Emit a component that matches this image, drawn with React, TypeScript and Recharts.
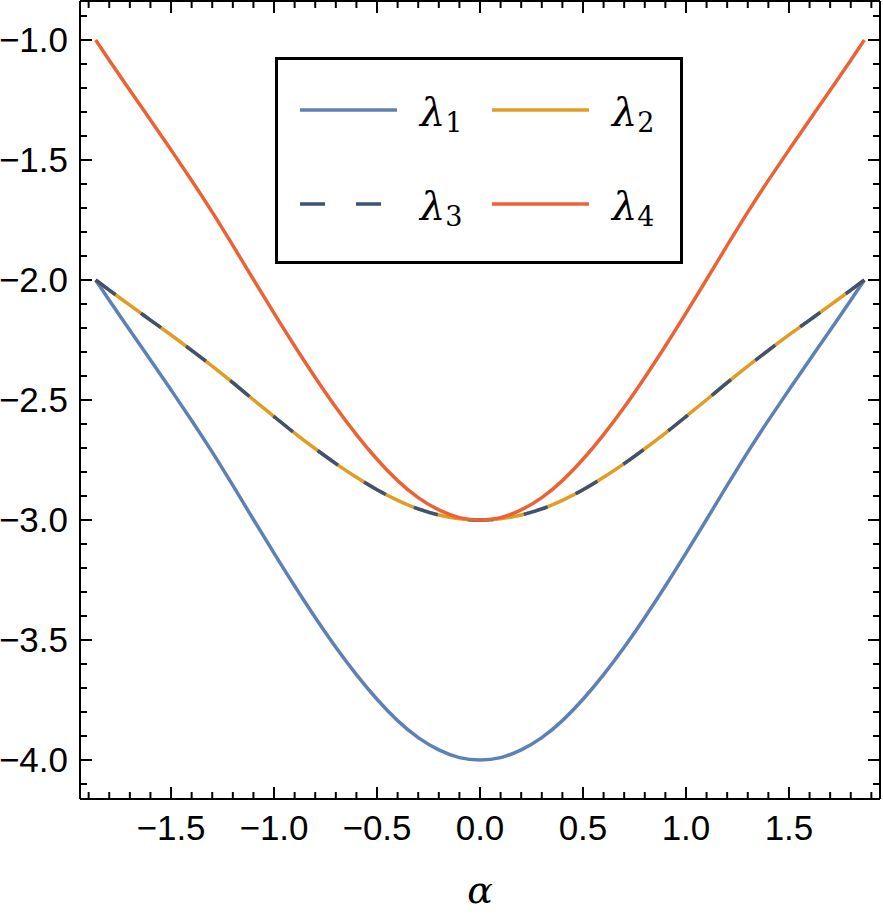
import React from 'react';
import { LineChart, Line, XAxis, YAxis, Legend } from 'recharts';

// alpha sample points and the four eigenvalue curves
const alpha = [
  -1.866, -1.8, -1.7, -1.6, -1.5, -1.4, -1.3, -1.2, -1.1, -1.0, -0.9, -0.8, -0.7, -0.6, -0.5, -0.4, -0.3, -0.2, -0.1,
  0,
  0.1, 0.2, 0.3, 0.4, 0.5, 0.6, 0.7, 0.8, 0.9, 1.0, 1.1, 1.2, 1.3, 1.4, 1.5, 1.6, 1.7, 1.8, 1.866,
];
const lambda1 = [
  -2.0, -2.084, -2.209, -2.333, -2.458, -2.585, -2.717, -2.856, -2.998, -3.138, -3.275, -3.406, -3.53, -3.644, -3.747, -3.836, -3.907, -3.958, -3.99,
  -4.0,
  -3.99, -3.958, -3.907, -3.836, -3.747, -3.644, -3.53, -3.406, -3.275, -3.138, -2.998, -2.856, -2.717, -2.585, -2.458, -2.333, -2.209, -2.084, -2.0,
];
const lambda2 = [
  -2.0, -2.042, -2.105, -2.167, -2.229, -2.293, -2.359, -2.428, -2.499, -2.569, -2.638, -2.703, -2.765, -2.822, -2.874, -2.918, -2.954, -2.979, -2.995,
  -3.0,
  -2.995, -2.979, -2.954, -2.918, -2.874, -2.822, -2.765, -2.703, -2.638, -2.569, -2.499, -2.428, -2.359, -2.293, -2.229, -2.167, -2.105, -2.042, -2.0,
];
const lambda3 = [
  -2.0, -2.042, -2.105, -2.167, -2.229, -2.293, -2.359, -2.428, -2.499, -2.569, -2.638, -2.703, -2.765, -2.822, -2.874, -2.918, -2.954, -2.979, -2.995,
  -3.0,
  -2.995, -2.979, -2.954, -2.918, -2.874, -2.822, -2.765, -2.703, -2.638, -2.569, -2.499, -2.428, -2.359, -2.293, -2.229, -2.167, -2.105, -2.042, -2.0,
];
const lambda4 = [
  -1.0, -1.084, -1.209, -1.333, -1.458, -1.585, -1.717, -1.856, -1.998, -2.138, -2.275, -2.406, -2.53, -2.644, -2.747, -2.836, -2.907, -2.958, -2.99,
  -3.0,
  -2.99, -2.958, -2.907, -2.836, -2.747, -2.644, -2.53, -2.406, -2.275, -2.138, -1.998, -1.856, -1.717, -1.585, -1.458, -1.333, -1.209, -1.084, -1.0,
];

const xTicks = [
  -1.9, -1.8, -1.7, -1.6, -1.5, -1.4, -1.3, -1.2, -1.1, -1.0, -0.9, -0.8, -0.7, -0.6, -0.5, -0.4, -0.3, -0.2, -0.1, 0,
  0.1, 0.2, 0.3, 0.4, 0.5, 0.6, 0.7, 0.8, 0.9, 1.0, 1.1, 1.2, 1.3, 1.4, 1.5, 1.6, 1.7, 1.8, 1.9,
];
const xMajor = [-1.5, -1.0, -0.5, 0, 0.5, 1.0, 1.5];
const xLabels = ['\u22121.5', '\u22121.0', '\u22120.5', '0.0', '0.5', '1.0', '1.5'];

const yTicks = [
  -4.1, -4.0, -3.9, -3.8, -3.7, -3.6, -3.5, -3.4, -3.3, -3.2, -3.1, -3.0, -2.9, -2.8, -2.7, -2.6, -2.5,
  -2.4, -2.3, -2.2, -2.1, -2.0, -1.9, -1.8, -1.7, -1.6, -1.5, -1.4, -1.3, -1.2, -1.1, -1.0, -0.9,
];
const yMajor = [-4.0, -3.5, -3.0, -2.5, -2.0, -1.5, -1.0];
const yLabels = ['\u22124.0', '\u22123.5', '\u22123.0', '\u22122.5', '\u22122.0', '\u22121.5', '\u22121.0'];

const seriesNames = ['\u03bb1', '\u03bb2', '\u03bb3', '\u03bb4'];
const seriesKeys = ['l1', 'l2', 'l3', 'l4'];
const seriesColors = ['#5E81B5', '#E19C24', '#3E5272', '#EB6235'];

const data = alpha.map((a, i) => ({
  alpha: a,
  l1: lambda1[i],
  l2: lambda2[i],
  l3: lambda3[i],
  l4: lambda4[i],
}));

const X_DOMAIN = [-1.942, 1.942];
const Y_DOMAIN = [-4.1625, -0.8375];
const DASH = '25 31';
const LINE_W = 3.5;
const TICK_FONT = '"Liberation Sans", Arial, sans-serif';
const MATH_FONT = '"DejaVu Serif", "Liberation Serif", serif';

const findMajor = (list: number[], v: number) => list.findIndex((m) => Math.abs(m - v) < 1e-6);

const BottomTick = (props: any) => {
  const { x, y, payload } = props;
  const i = findMajor(xMajor, payload.value);
  const len = i >= 0 ? 12 : 7;
  return (
    <g>
      <line x1={x} x2={x} y1={y} y2={y - len} stroke="#000" strokeWidth={2} />
      {i >= 0 && (
        <text x={x} y={y + 41} textAnchor="middle" fontFamily={TICK_FONT} fontSize={35} fill="#000">
          {xLabels[i]}
        </text>
      )}
    </g>
  );
};

const TopTick = (props: any) => {
  const { x, y, payload } = props;
  const len = findMajor(xMajor, payload.value) >= 0 ? 12 : 7;
  return <line x1={x} x2={x} y1={y} y2={y + len} stroke="#000" strokeWidth={2} />;
};

const LeftTick = (props: any) => {
  const { x, y, payload } = props;
  const i = findMajor(yMajor, payload.value);
  const len = i >= 0 ? 12 : 7;
  return (
    <g>
      <line x1={x} x2={x + len} y1={y} y2={y} stroke="#000" strokeWidth={2} />
      {i >= 0 && (
        <text x={x - 12} y={y + 12} textAnchor="end" fontFamily={TICK_FONT} fontSize={35} fill="#000">
          {yLabels[i]}
        </text>
      )}
    </g>
  );
};

const RightTick = (props: any) => {
  const { x, y, payload } = props;
  const len = findMajor(yMajor, payload.value) >= 0 ? 12 : 7;
  return <line x1={x} x2={x - len} y1={y} y2={y} stroke="#000" strokeWidth={2} />;
};

// legend box: two columns, two rows
const LegendBox = () => {
  const cols = [25, 217];
  const rows = [53, 147];
  return (
    <svg width={408} height={207} style={{ display: 'block' }}>
      <rect x={1.5} y={1.5} width={405} height={204} fill="#fff" stroke="#000" strokeWidth={3} />
      {seriesNames.map((name, i) => {
        const cx = cols[i % 2];
        const cy = rows[Math.floor(i / 2)];
        return (
          <g key={name}>
            <line
              x1={cx}
              x2={cx + 97}
              y1={cy}
              y2={cy}
              stroke={seriesColors[i]}
              strokeWidth={LINE_W}
              strokeDasharray={i === 2 ? DASH : undefined}
            />
            <text x={cx + 120} y={cy + 16} fontFamily={MATH_FONT} fontStyle="italic" fontSize={40} fill="#000">
              {name.charAt(0)}
              <tspan fontStyle="normal" fontSize={27} dy={6}>
                {name.slice(1)}
              </tspan>
            </text>
          </g>
        );
      })}
    </svg>
  );
};

export default function App() {
  return (
    <div style={{ position: 'absolute', left: 0, top: 0, width: 883, height: 923, background: '#fff' }}>
      <LineChart width={883} height={923} data={data} margin={{ top: 0, right: 0, bottom: 0, left: 0 }}>
        <XAxis
          dataKey="alpha"
          type="number"
          domain={X_DOMAIN}
          allowDataOverflow
          ticks={xTicks}
          interval={0}
          height={124}
          tickSize={0}
          tickMargin={0}
          tick={<BottomTick />}
          tickLine={false}
          axisLine={{ stroke: '#000', strokeWidth: 2 }}
          label={{
            value: '\u03b1',
            position: 'insideBottom',
            offset: 20,
            style: { fontFamily: MATH_FONT, fontStyle: 'italic', fontSize: 38, fill: '#000' },
          }}
        />
        <XAxis
          xAxisId="top"
          orientation="top"
          dataKey="alpha"
          type="number"
          domain={X_DOMAIN}
          allowDataOverflow
          ticks={xTicks}
          interval={0}
          height={1}
          tickSize={0}
          tickMargin={0}
          tick={<TopTick />}
          tickLine={false}
          axisLine={{ stroke: '#000', strokeWidth: 2 }}
        />
        <YAxis
          type="number"
          domain={Y_DOMAIN}
          allowDataOverflow
          ticks={yTicks}
          interval={0}
          width={80}
          tickSize={0}
          tickMargin={0}
          tick={<LeftTick />}
          tickLine={false}
          axisLine={{ stroke: '#000', strokeWidth: 2 }}
        />
        <YAxis
          yAxisId="right"
          orientation="right"
          type="number"
          domain={Y_DOMAIN}
          allowDataOverflow
          ticks={yTicks}
          interval={0}
          width={3}
          tickSize={0}
          tickMargin={0}
          tick={<RightTick />}
          tickLine={false}
          axisLine={{ stroke: '#000', strokeWidth: 2 }}
        />
        <Legend
          layout="horizontal"
          verticalAlign="middle"
          align="center"
          wrapperStyle={{ left: 275, top: 57, width: 408, height: 207 }}
          content={() => <LegendBox />}
        />
        {seriesKeys.map((key, i) => (
          <Line
            key={key}
            name={seriesNames[i]}
            dataKey={key}
            type="natural"
            stroke={seriesColors[i]}
            strokeWidth={LINE_W}
            strokeDasharray={i === 2 ? DASH : undefined}
            dot={false}
            activeDot={false}
            isAnimationActive={false}
          />
        ))}
      </LineChart>
    </div>
  );
}
